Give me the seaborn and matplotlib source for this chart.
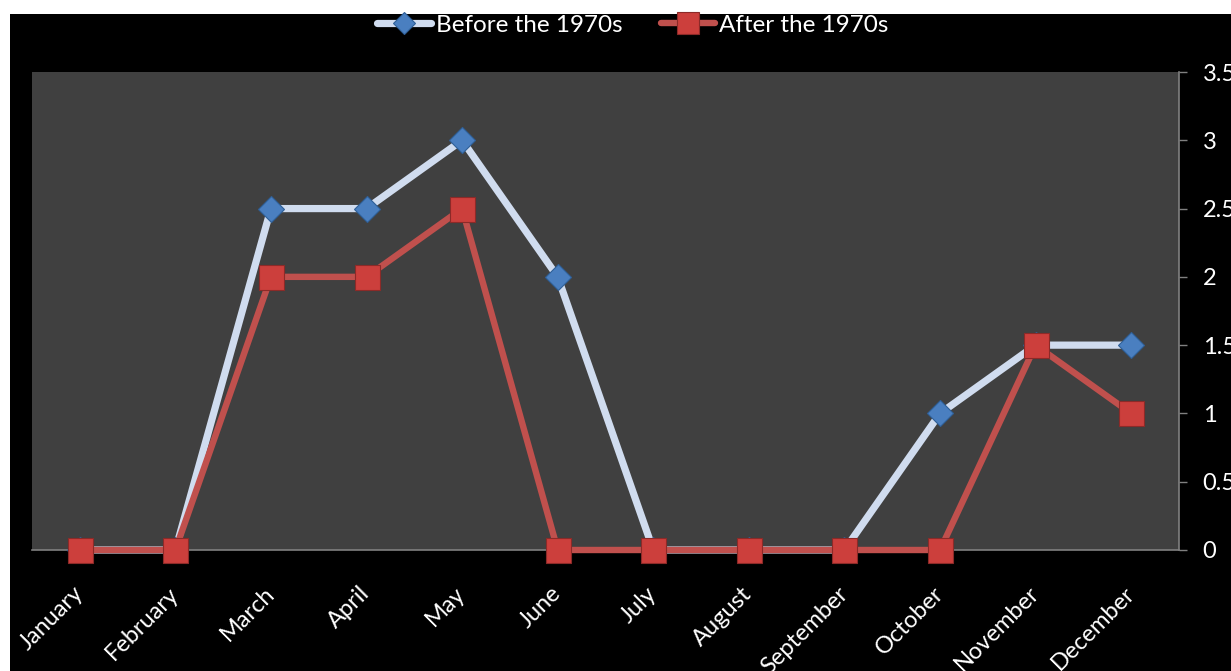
import matplotlib
matplotlib.use("Agg")
import matplotlib.pyplot as plt
from matplotlib.patches import Rectangle
import seaborn as sns
import pandas as pd

months = ["January", "February", "March", "April", "May", "June",
          "July", "August", "September", "October", "November", "December"]
before_1970s = [0, 0, 2.5, 2.5, 3, 2, 0, 0, 0, 1, 1.5, 1.5]
after_1970s = [0, 0, 2, 2, 2.5, 0, 0, 0, 0, 0, 1.5, 1]
y_ticks = [0, 0.5, 1, 1.5, 2, 2.5, 3, 3.5]
y_tick_labels = ["0", "0.5", "1", "1.5", "2", "2.5", "3", "3.5"]
series_names = ["Before the 1970s", "After the 1970s"]

sns.set_theme(style="dark")
plt.rcParams['font.family'] = ['Lato', 'DejaVu Sans']

W, H = 1231, 671
fig = plt.figure(figsize=(W / 100, H / 100), dpi=100, facecolor="white")
fig.patches.append(Rectangle((10 / W, 0), 1 - 10 / W, 1 - 14 / H,
                             transform=fig.transFigure, facecolor="black",
                             edgecolor="none", zorder=-10))

ax = fig.add_axes([32 / W, 1 - 550 / H, (1179 - 32) / W, (550 - 72) / H])
ax.set_facecolor("#404040")

df_b = pd.DataFrame({"month": months, "value": before_1970s})
df_a = pd.DataFrame({"month": months, "value": after_1970s})

sns.lineplot(data=df_b, x="month", y="value", ax=ax, sort=False,
             color="#d0dcef", linewidth=5.2, marker="D", markersize=13,
             markerfacecolor="#4a7fc0", markeredgecolor="#2f5f97",
             markeredgewidth=0.8, clip_on=False, label=series_names[0],
             zorder=3)
sns.lineplot(data=df_a, x="month", y="value", ax=ax, sort=False,
             color="#c0504d", linewidth=4.6, marker="s", markersize=18,
             markerfacecolor="#cc3f3c", markeredgecolor="#8c2a28",
             markeredgewidth=0.8, clip_on=False, label=series_names[1],
             zorder=4)

ax.set_xlim(-0.5, len(months) - 0.5)
ax.set_ylim(0, 3.5)
ax.set_xlabel("")
ax.set_ylabel("")
ax.grid(False)

ax.set_xticks(range(len(months)))
ax.set_xticklabels(months, rotation=45, ha="right", va="center",
                   rotation_mode="anchor", color="white", fontsize=17)
ax.tick_params(axis="x", length=0, pad=29)

ax.yaxis.tick_right()
ax.set_yticks(y_ticks)
ax.set_yticklabels(y_tick_labels, color="white", fontsize=17)
ax.tick_params(axis="y", right=True, left=False, length=6, width=1,
               color="#808080", pad=11)

for side in ["top", "left"]:
    ax.spines[side].set_visible(False)
for side in ["right", "bottom"]:
    ax.spines[side].set_visible(True)
    ax.spines[side].set_color("#808080")
    ax.spines[side].set_linewidth(1.2)

leg = ax.legend(loc="center", bbox_to_anchor=(633 / W, 1 - 25 / H),
                bbox_transform=fig.transFigure, ncol=2, frameon=False,
                fontsize=17.5, handlelength=2.2, columnspacing=1.6,
                handletextpad=0.2, labelcolor="white", markerscale=0.85)

fig.savefig("out.png", dpi=100, facecolor=fig.get_facecolor())
